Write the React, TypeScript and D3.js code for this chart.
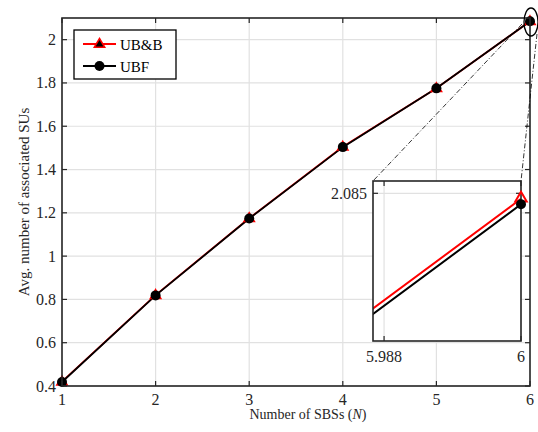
import React from "react";
import * as d3 from "d3";

const sbsCounts = [1, 2, 3, 4, 5, 6];
const ubbValues = [0.42, 0.82, 1.175, 1.505, 1.7752, 2.0848];
const ubfValues = [0.4185, 0.8185, 1.1735, 1.5035, 1.775, 2.0846];
const yTicks = [0.4, 0.6, 0.8, 1, 1.2, 1.4, 1.6, 1.8, 2];
const xTicks = [1, 2, 3, 4, 5, 6];
const insetXTicks = [5.988, 6];
const insetYTicks = [2.085];

const W = 538;
const H = 432;
const FONT = "'Liberation Serif', 'Times New Roman', serif";

const m = { left: 62, right: 530, top: 18, bottom: 386 };
const inset = { left: 373, right: 521, top: 181, bottom: 341 };

export default function App() {
  const x = d3.scaleLinear().domain([1, 6]).range([m.left, m.right]);
  const y = d3.scaleLinear().domain([0.4, 2.1]).range([m.bottom, m.top]);
  const ix = d3.scaleLinear().domain([5.98703, 6]).range([inset.left, inset.right]);
  const iy = d3.scaleLinear().domain([2.0796, 2.08545]).range([inset.bottom, inset.top]);

  const mainLine = d3.line<number>().x((_, i) => x(sbsCounts[i])).y((d) => y(d));
  const insetLine = d3.line<number>().x((_, i) => ix(sbsCounts[i])).y((d) => iy(d));

  const tri = (cx: number, cy: number, s: number) =>
    `M${cx},${cy - s}L${cx + s * 0.95},${cy + s * 0.6}L${cx - s * 0.95},${cy + s * 0.6}Z`;

  const tickLen = 5;
  const axisColor = "#262626";

  return (
    <svg width={W} height={H} style={{ position: "absolute", left: 0, top: 0, background: "#fff" }}>
      <defs>
        <clipPath id="insetClip">
          <rect x={inset.left} y={inset.top} width={inset.right - inset.left} height={inset.bottom - inset.top} />
        </clipPath>
      </defs>
      <rect x={0} y={0} width={W} height={H} fill="#fff" />
      {/* grid */}
      {xTicks.map((t) => (
        <line key={"gx" + t} x1={x(t)} x2={x(t)} y1={m.top} y2={m.bottom} stroke="#e1e1e1" strokeWidth={1.2} />
      ))}
      {yTicks.map((t) => (
        <line key={"gy" + t} x1={m.left} x2={m.right} y1={y(t)} y2={y(t)} stroke="#e1e1e1" strokeWidth={1.2} />
      ))}

      {/* main series */}
      <path d={mainLine(ubbValues) || ""} fill="none" stroke="#ff0000" strokeWidth={1.8} />
      <path d={mainLine(ubfValues) || ""} fill="none" stroke="#000" strokeWidth={1.8} />
      {ubbValues.map((v, i) => (
        <path key={"t" + i} d={tri(x(sbsCounts[i]), y(v), 5.5)} fill="#000" stroke="#ff0000" strokeWidth={1.5} />
      ))}
      {ubfValues.map((v, i) => (
        <circle key={"c" + i} cx={x(sbsCounts[i])} cy={y(v)} r={5} fill="#000" />
      ))}

      {/* axes box + ticks */}
      <rect x={m.left} y={m.top} width={m.right - m.left} height={m.bottom - m.top} fill="none" stroke={axisColor} strokeWidth={1.6} />
      {xTicks.map((t) => (
        <g key={"xt" + t}>
          <line x1={x(t)} x2={x(t)} y1={m.bottom} y2={m.bottom - tickLen} stroke={axisColor} strokeWidth={1.2} />
          <line x1={x(t)} x2={x(t)} y1={m.top} y2={m.top + tickLen} stroke={axisColor} strokeWidth={1.2} />
          <text x={x(t)} y={m.bottom + 19} textAnchor="middle" fontFamily={FONT} fontSize={16} fill={axisColor}>
            {t}
          </text>
        </g>
      ))}
      {yTicks.map((t) => (
        <g key={"yt" + t}>
          <line x1={m.left} x2={m.left + tickLen} y1={y(t)} y2={y(t)} stroke={axisColor} strokeWidth={1.2} />
          <line x1={m.right} x2={m.right - tickLen} y1={y(t)} y2={y(t)} stroke={axisColor} strokeWidth={1.2} />
          <text x={m.left - 6} y={y(t) + 5.5} textAnchor="end" fontFamily={FONT} fontSize={16} fill={axisColor}>
            {d3.format("~g")(t)}
          </text>
        </g>
      ))}

      {/* axis titles */}
      <text x={(m.left + m.right) / 2 + 12} y={419} textAnchor="middle" fontFamily={FONT} fontSize={14} fill={axisColor}>
        Number of SBSs (<tspan fontStyle="italic">N</tspan>)
      </text>
      <text
        transform={`translate(29,${(m.top + m.bottom) / 2}) rotate(-90)`}
        textAnchor="middle"
        fontFamily={FONT}
        fontSize={15}
        fill={axisColor}
      >
        Avg. number of associated SUs
      </text>

      {/* zoom marker and connectors */}
      <ellipse cx={531} cy={22} rx={7} ry={14} fill="none" stroke="#000" strokeWidth={1.3} />
      <line x1={522} y1={24} x2={inset.left} y2={inset.top} stroke="#000" strokeWidth={0.8} strokeDasharray="5,2,1,2" />
      <line x1={537} y1={34} x2={inset.right} y2={inset.top} stroke="#000" strokeWidth={0.8} strokeDasharray="5,2,1,2" />

      {/* inset */}
      <rect x={inset.left} y={inset.top} width={inset.right - inset.left} height={inset.bottom - inset.top} fill="#fff" />
      {insetXTicks.map((t) => (
        <line key={"igx" + t} x1={ix(t)} x2={ix(t)} y1={inset.top} y2={inset.bottom} stroke="#e1e1e1" strokeWidth={1.2} />
      ))}
      {insetYTicks.map((t) => (
        <line key={"igy" + t} x1={inset.left} x2={inset.right} y1={iy(t)} y2={iy(t)} stroke="#e1e1e1" strokeWidth={1.2} />
      ))}
      <g clipPath="url(#insetClip)">
        <path d={insetLine(ubbValues) || ""} fill="none" stroke="#ff0000" strokeWidth={2} />
        <path d={insetLine(ubfValues) || ""} fill="none" stroke="#000" strokeWidth={2} />
      </g>
      <rect x={inset.left} y={inset.top} width={inset.right - inset.left} height={inset.bottom - inset.top} fill="none" stroke={axisColor} strokeWidth={1.6} />
      {insetXTicks.map((t) => (
        <g key={"ixt" + t}>
          <line x1={ix(t)} x2={ix(t)} y1={inset.bottom} y2={inset.bottom - tickLen} stroke={axisColor} strokeWidth={1.2} />
          <line x1={ix(t)} x2={ix(t)} y1={inset.top} y2={inset.top + tickLen} stroke={axisColor} strokeWidth={1.2} />
          <text x={ix(t)} y={inset.bottom + 21} textAnchor="middle" fontFamily={FONT} fontSize={16} fill={axisColor}>
            {d3.format("~g")(t)}
          </text>
        </g>
      ))}
      {insetYTicks.map((t) => (
        <g key={"iyt" + t}>
          <line x1={inset.left} x2={inset.left + tickLen} y1={iy(t)} y2={iy(t)} stroke={axisColor} strokeWidth={1.2} />
          <line x1={inset.right} x2={inset.right - tickLen} y1={iy(t)} y2={iy(t)} stroke={axisColor} strokeWidth={1.2} />
          <text x={inset.left - 6} y={iy(t) + 5.5} textAnchor="end" fontFamily={FONT} fontSize={16} fill={axisColor}>
            {t}
          </text>
        </g>
      ))}
      {/* endpoint markers in the inset */}
      <path d={tri(ix(6), iy(ubbValues[5]) - 1, 6)} fill="none" stroke="#ff0000" strokeWidth={2} />
      <circle cx={ix(6)} cy={iy(ubfValues[5])} r={5} fill="#000" />

      {/* legend */}
      <rect x={74} y={30} width={102} height={49} fill="#fff" stroke="#000" strokeWidth={1.3} />
      <line x1={83} x2={116} y1={44} y2={44} stroke="#ff0000" strokeWidth={1.8} />
      <path d={tri(99.5, 44, 5.5)} fill="#000" stroke="#ff0000" strokeWidth={1.5} />
      <text x={120} y={49.5} fontFamily={FONT} fontSize={15} fill="#000">UB&amp;B</text>
      <line x1={83} x2={116} y1={66} y2={66} stroke="#000" strokeWidth={1.8} />
      <circle cx={99.5} cy={66} r={5} fill="#000" />
      <text x={120} y={71.5} fontFamily={FONT} fontSize={15} fill="#000">UBF</text>
    </svg>
  );
}
